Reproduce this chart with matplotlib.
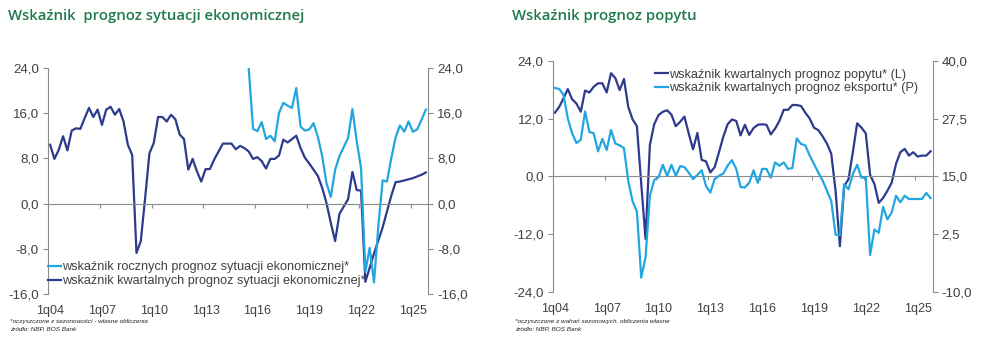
import numpy as np
import matplotlib.pyplot as plt
from matplotlib.ticker import FixedLocator, FuncFormatter

plt.rcParams['font.family'] = ['Liberation Sans', 'DejaVu Sans']

# quarters 1q04 .. 4q25
quarters = [f"{q}q{y % 100:02d}" for y in range(2004, 2026) for q in range(1, 5)]
label_every = 12

# --- left chart: economic situation forecasts (both on same scale) ---
sytuacja_kwartalna = [
    10.4, 7.9, 9.5, 11.9, 9.4, 12.9, 13.3, 13.2, 15.1, 16.9, 15.3, 16.6,
    13.9, 16.6, 17.1, 15.7, 16.7, 14.5, 10.4, 8.6, -8.7, -6.6, 1.0, 8.9,
    10.7, 15.3, 15.3, 14.5, 15.7, 14.9, 12.2, 11.4, 6.0, 7.9, 5.7, 3.9,
    6.1, 6.1, 7.8, 9.2, 10.6, 10.6, 10.6, 9.6, 10.2, 9.8, 9.2, 7.9,
    8.2, 7.5, 6.2, 7.9, 7.9, 8.5, 11.3, 10.8, 11.4, 12.0, 9.8, 8.1,
    7.1, 6.0, 4.9, 2.8, 0.1, -3.4, -6.6, -1.8, -0.5, 0.8, 5.6, 2.4,
    2.3, -13.8, -11.3, -8.8, -6.5, -4.2, -1.4, 1.4, 3.8, 3.9, 4.1, 4.3,
    4.5, 4.8, 5.1, 5.5,
]
sytuacja_roczna = [np.nan] * 46 + [
    23.8, 13.2, 12.8, 14.4, 11.4, 12.0, 11.0, 16.0, 17.8, 17.3, 16.9, 20.4,
    13.6, 12.9, 13.1, 14.2, 11.8, 8.4, 3.6, 1.2, 6.0, 8.4, 10.0, 11.6,
    16.7, 11.0, 6.3, -12.0, -7.8, -13.9, -4.0, 4.1, 3.9, 8.0, 11.7, 13.8,
    12.7, 14.5, 12.7, 13.1, 14.8, 16.6,
]

# --- right chart: demand (left axis) and export (right axis) forecasts ---
popyt = [
    13.2, 14.4, 16.2, 18.1, 16.0, 15.1, 13.4, 17.8, 17.4, 18.6, 19.3, 19.3,
    17.4, 21.4, 20.4, 17.9, 20.2, 14.4, 11.8, 10.4, -1.5, -13.0, 6.5, 10.8,
    12.7, 13.4, 13.7, 12.8, 10.4, 11.3, 12.4, 8.9, 5.6, 9.0, 3.4, 3.1,
    0.8, 1.9, 5.0, 8.2, 10.8, 11.8, 11.5, 8.5, 10.7, 8.6, 10.0, 10.7,
    10.8, 10.7, 8.7, 9.9, 11.5, 13.8, 13.8, 14.8, 14.8, 14.6, 13.2, 12.0,
    10.1, 9.6, 8.3, 6.8, 4.7, -3.0, -14.5, -2.0, -0.6, 5.0, 11.0, 10.1,
    8.9, 0.3, -1.6, -5.5, -4.5, -3.0, -1.3, 2.6, 5.0, 5.7, 4.3, 5.0,
    4.1, 4.3, 4.3, 5.2,
]
eksport = [
    34.1, 33.9, 32.6, 27.5, 24.3, 22.2, 22.9, 29.0, 24.6, 24.3, 20.4, 23.1,
    20.7, 25.0, 22.1, 21.7, 21.1, 14.0, 9.6, 7.4, -6.9, -2.5, 10.8, 14.2,
    14.8, 17.5, 15.1, 17.5, 15.1, 17.2, 17.0, 15.8, 14.4, 15.3, 16.3, 12.9,
    11.5, 14.4, 15.1, 15.6, 17.3, 18.5, 16.6, 12.7, 12.6, 13.6, 16.3, 13.6,
    16.6, 16.6, 14.7, 18.0, 17.3, 18.0, 16.6, 16.8, 23.2, 22.0, 21.7, 19.5,
    17.7, 15.8, 14.1, 11.9, 9.7, 2.4, 2.3, 13.3, 12.2, 15.5, 17.5, 14.7,
    14.8, -2.0, 3.5, 2.8, 8.4, 5.7, 7.2, 10.8, 9.4, 10.8, 10.1, 10.1,
    10.1, 10.1, 11.4, 10.3,
]

dark = '#2e3a8c'
light = '#22a6e0'
grey = '#8c8c8c'
text_col = '#404040'
title_green = '#1f7a4d'


def pl_fmt(v, pos):
    return f"{v:.1f}".replace('.', ',')


def style_pair(ax, ax2, lim1, ticks1, lim2, ticks2):
    x = np.arange(len(quarters))
    for a, lim, ticks in ((ax, lim1, ticks1), (ax2, lim2, ticks2)):
        a.set_xlim(-0.5, len(x) - 0.5)
        a.set_ylim(*lim)
        a.yaxis.set_major_locator(FixedLocator(ticks))
        a.yaxis.set_major_formatter(FuncFormatter(pl_fmt))
        a.tick_params(axis='y', colors=grey, labelcolor=text_col, labelsize=9.6,
                      length=3.5, width=0.8, pad=3)
        for s in a.spines.values():
            s.set_visible(False)
    ax.spines['left'].set_visible(True)
    ax.spines['left'].set_color(grey)
    ax2.spines['right'].set_visible(True)
    ax2.spines['right'].set_color(grey)
    # category axis crossing at zero
    ax.spines['bottom'].set_visible(True)
    ax.spines['bottom'].set_position(('data', 0))
    ax.spines['bottom'].set_color(grey)
    ax.xaxis.set_major_locator(FixedLocator(np.arange(label_every - 0.5, len(x) - 1, label_every)))
    ax.tick_params(axis='x', colors=grey, length=3, width=0.8, labelbottom=False)
    # labels at the bottom of the plot area
    sec = ax.secondary_xaxis('bottom')
    sec.spines['bottom'].set_visible(False)
    sec.set_xticks(x[::label_every], [quarters[i] for i in x[::label_every]])
    sec.tick_params(length=0, pad=8, labelsize=9, labelcolor=text_col)
    return x


fig = plt.figure(figsize=(9.93, 3.44), dpi=100)

# left chart
ax = fig.add_axes([0.0483, 0.1445, 0.3827, 0.6587])
ax2 = ax.twinx()
ticks = [-16, -8, 0, 8, 16, 24]
x = style_pair(ax, ax2, (-16, 24), ticks, (-16, 24), ticks)
l_kw, = ax.plot(x, sytuacja_kwartalna, color=dark, lw=1.6)
l_rk, = ax2.plot(x, sytuacja_roczna, color=light, lw=1.6)
ax2.legend([l_rk, l_kw],
           ['wskaźnik rocznych prognoz sytuacji ekonomicznej*',
            'wskaźnik kwartalnych prognoz sytuacji ekonomicznej*'],
           loc='center left', bbox_to_anchor=(0.0, 0.089), frameon=False,
           fontsize=9.1, handlelength=1.0, handletextpad=0.15, borderpad=0,
           borderaxespad=0, labelspacing=0.15, labelcolor=text_col)

# right chart
bx = fig.add_axes([0.5566, 0.1512, 0.3827, 0.6724])
bx2 = bx.twinx()
x = style_pair(bx, bx2, (-24, 24), [-24, -12, 0, 12, 24],
               (-10, 40), [-10, 2.5, 15, 27.5, 40])
l_p, = bx.plot(x, popyt, color=dark, lw=1.6)
l_e, = bx2.plot(x, eksport, color=light, lw=1.6)
bx2.legend([l_p, l_e],
           ['wskaźnik kwartalnych prognoz popytu* (L)',
            'wskaźnik kwartalnych prognoz eksportu* (P)'],
           loc='center left', bbox_to_anchor=(0.269, 0.91), frameon=False,
           fontsize=9.1, handlelength=1.0, handletextpad=0.15, borderpad=0,
           borderaxespad=0, labelspacing=0.15, labelcolor=text_col)

# titles
fig.text(8 / 993, 1 - 16 / 344, 'Wskaźnik  prognoz sytuacji ekonomicznej',
         family='Open Sans', weight='semibold', size=10.7, color=title_green, va='center')
fig.text(512 / 993, 1 - 16 / 344, 'Wskaźnik prognoz popytu',
         family='Open Sans', weight='semibold', size=10.7, color=title_green, va='center')

# footnotes
foot = dict(size=4.6, style='italic', color='#222222', va='center')
fig.text(10 / 993, 1 - 321 / 344, '*oczyszczone z sezonowości - własne obliczenia', **foot)
fig.text(10 / 993, 1 - 328.5 / 344, 'źródło: NBP, BOS Bank', **foot)
fig.text(515 / 993, 1 - 321 / 344, '*oczyszczone z wahań sezonowych, obliczenia własne', **foot)
fig.text(515 / 993, 1 - 328.5 / 344, 'źródło: NBP, BOS Bank', **foot)

fig.savefig('out.png', dpi=100)
